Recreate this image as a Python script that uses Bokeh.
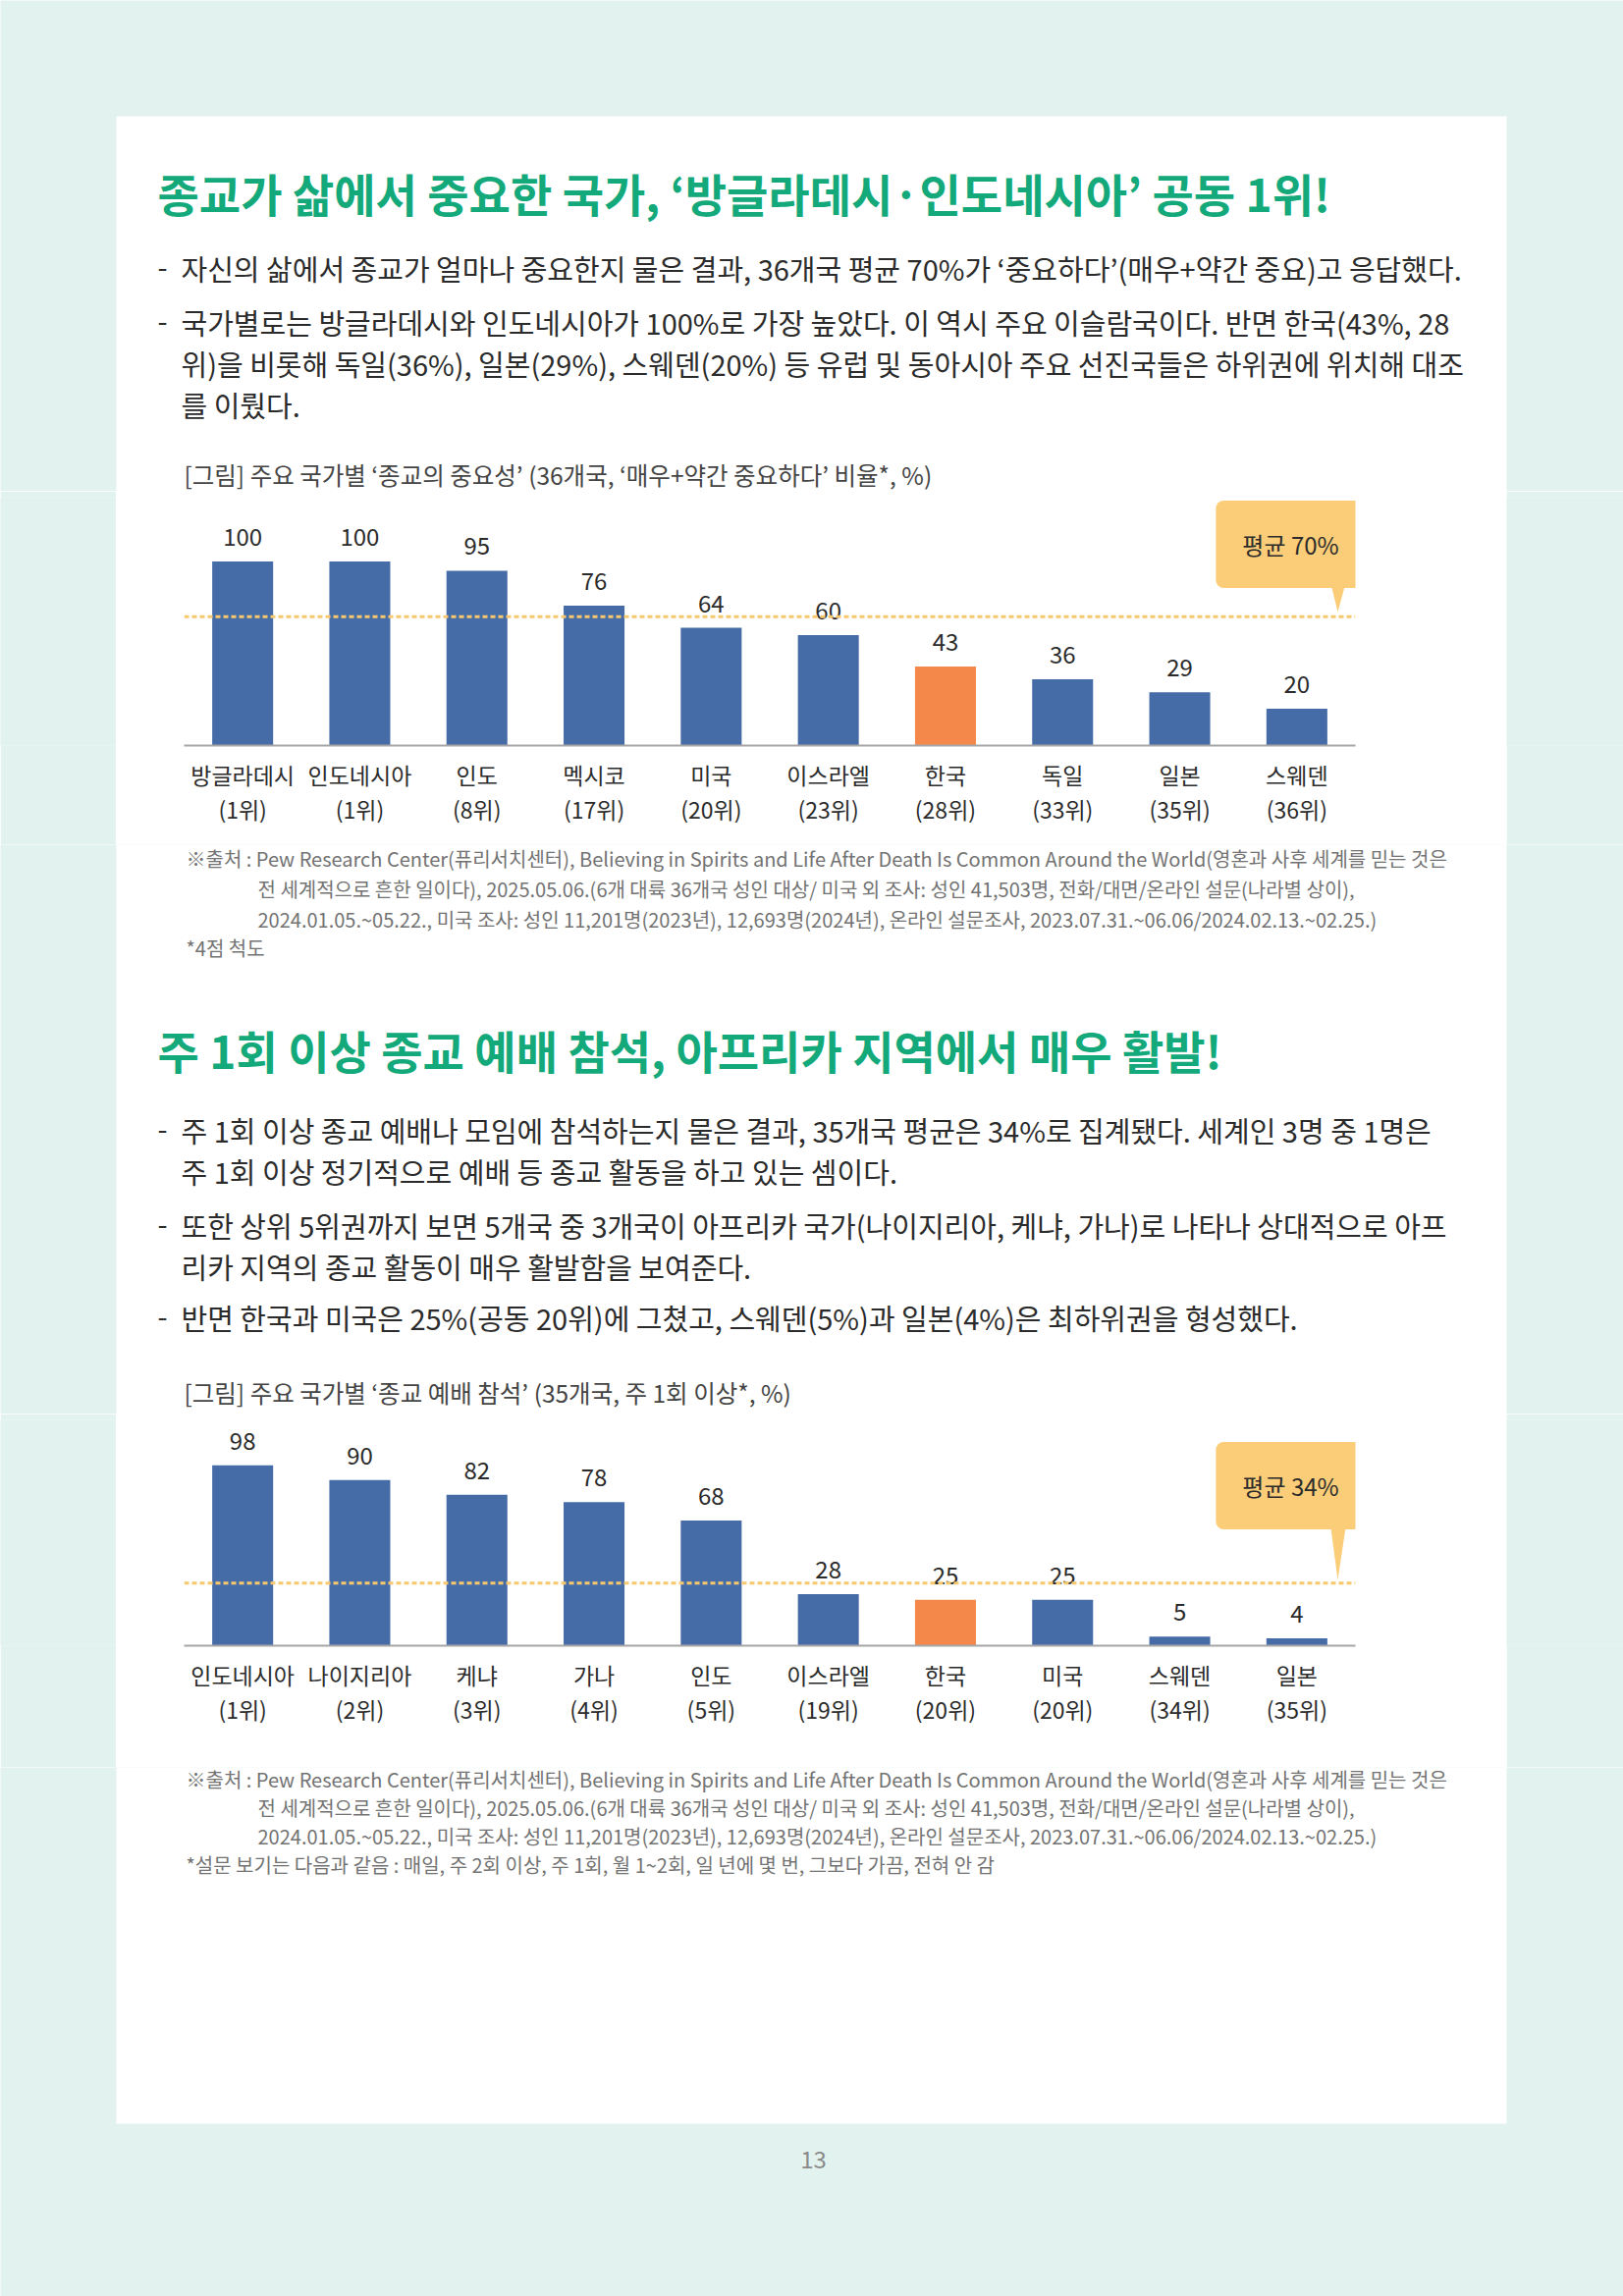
from bokeh.core.properties import value
from bokeh.embed import file_html
from bokeh.layouts import column, row
from bokeh.models import ColumnDataSource, FactorRange, Label, Range1d, Span
from bokeh.plotting import figure
from bokeh.resources import INLINE

FONT = "Noto Sans CJK KR"
MINT = "#e2f3ef"
GREEN = "#14a97a"
BLUE = "#466ca8"
ORANGE = "#f4874a"
AVG_LINE = "#f8c86d"
CALLOUT = "#fbcd78"
TEXT = "#2b2b2b"
NOTE = "#737373"

# chart 1: importance of religion
countries1 = ["방글라데시", "인도네시아", "인도", "멕시코", "미국", "이스라엘", "한국", "독일", "일본", "스웨덴"]
ranks1 = ["1위", "1위", "8위", "17위", "20위", "23위", "28위", "33위", "35위", "36위"]
values1 = [100, 100, 95, 76, 64, 60, 43, 36, 29, 20]
avg1 = 70

# chart 2: weekly attendance
countries2 = ["인도네시아", "나이지리아", "케냐", "가나", "인도", "이스라엘", "한국", "미국", "스웨덴", "일본"]
ranks2 = ["1위", "2위", "3위", "4위", "5위", "19위", "20위", "20위", "34위", "35위"]
values2 = [98, 90, 82, 78, 68, 28, 25, 25, 5, 4]
avg2 = 34

title1 = "종교가 삶에서 중요한 국가, ‘방글라데시·인도네시아’ 공동 1위!"
bullets1 = [
    ("-", "자신의 삶에서 종교가 얼마나 중요한지 물은 결과, 36개국 평균 70%가 ‘중요하다’(매우+약간 중요)고 응답했다."),
    ("-", "국가별로는 방글라데시와 인도네시아가 100%로 가장 높았다. 이 역시 주요 이슬람국이다. 반면 한국(43%, 28"),
    ("", "위)을 비롯해 독일(36%), 일본(29%), 스웨덴(20%) 등 유럽 및 동아시아 주요 선진국들은 하위권에 위치해 대조"),
    ("", "를 이뤘다."),
]
caption1 = "[그림] 주요 국가별 ‘종교의 중요성’ (36개국, ‘매우+약간 중요하다’ 비율*, %)"

source_lines = [
    "※출처 : Pew Research Center(퓨리서치센터), Believing in Spirits and Life After Death Is Common Around the World(영혼과 사후 세계를 믿는 것은",
    "전 세계적으로 흔한 일이다), 2025.05.06.(6개 대륙 36개국 성인 대상/ 미국 외 조사: 성인 41,503명, 전화/대면/온라인 설문(나라별 상이),",
    "2024.01.05.~05.22., 미국 조사: 성인 11,201명(2023년), 12,693명(2024년), 온라인 설문조사, 2023.07.31.~06.06/2024.02.13.~02.25.)",
]
footnote1 = "*4점 척도"

title2 = "주 1회 이상 종교 예배 참석, 아프리카 지역에서 매우 활발!"
bullets2 = [
    ("-", "주 1회 이상 종교 예배나 모임에 참석하는지 물은 결과, 35개국 평균은 34%로 집계됐다. 세계인 3명 중 1명은"),
    ("", "주 1회 이상 정기적으로 예배 등 종교 활동을 하고 있는 셈이다."),
    ("-", "또한 상위 5위권까지 보면 5개국 중 3개국이 아프리카 국가(나이지리아, 케냐, 가나)로 나타나 상대적으로 아프"),
    ("", "리카 지역의 종교 활동이 매우 활발함을 보여준다."),
    ("-", "반면 한국과 미국은 25%(공동 20위)에 그쳤고, 스웨덴(5%)과 일본(4%)은 최하위권을 형성했다."),
]
caption2 = "[그림] 주요 국가별 ‘종교 예배 참석’ (35개국, 주 1회 이상*, %)"
footnote2 = "*설문 보기는 다음과 같음 : 매일, 주 2회 이상, 주 1회, 월 1~2회, 일 년에 몇 번, 그보다 가끔, 전혀 안 감"
page_no = "13"

PAGE_W = 1653
PX_PER_UNIT = 1.875
PANEL_L, PANEL_R = 118, 1534
FRAME_L, FRAME_R = 187, 1380   # page x of the chart frame
BODY = "29px"


def text_block(top, height):
    p = figure(width=PAGE_W, height=height, x_range=Range1d(0, PAGE_W), y_range=Range1d(top + height, top),
               x_axis_type=None, y_axis_type=None, toolbar_location=None, tools="",
               output_backend="svg", min_border=0, background_fill_color=MINT,
               border_fill_color=MINT, outline_line_color=None)
    # white page panel
    p.quad(left=PANEL_L, right=PANEL_R, top=118, bottom=2163, fill_color="white", line_color=None)
    return p


def put(p, x, y, s, size, color=TEXT, style="normal", align="left"):
    p.text(x=[x], y=[y], text=[s], text_font=value(FONT), text_font_size=size,
           text_color=color, text_font_style=style, text_align=align, text_baseline="middle")


def strip(w, h):
    s = figure(width=w, height=h, x_range=(0, 1), y_range=(0, 1), x_axis_type=None, y_axis_type=None,
               toolbar_location=None, tools="", output_backend="svg", min_border=0,
               background_fill_color=MINT, border_fill_color=MINT, outline_line_color=None)
    s.quad(left=0, right=1, top=1, bottom=0, fill_color=MINT, line_color=None)
    return s


def bar_chart(countries, ranks, values, avg, top, base, height, box_cy, box_bottom, tip):
    cats = [f"{c}\n({r})" for c, r in zip(countries, ranks)]
    colors = [ORANGE if c == "한국" else BLUE for c in countries]
    src = ColumnDataSource(dict(cat=cats, val=values, color=colors, label=[str(v) for v in values]))
    frame_top = top + 6
    p = figure(width=PANEL_R - PANEL_L, height=height, x_range=FactorRange(factors=cats),
               y_range=Range1d(0, (base - frame_top) / PX_PER_UNIT), y_axis_type=None,
               toolbar_location=None, tools="", output_backend="svg",
               min_border_left=FRAME_L - PANEL_L, min_border_right=PANEL_R - FRAME_R, min_border_top=6,
               min_border_bottom=top + height - base,
               background_fill_color="white", border_fill_color="white", outline_line_color=None)
    p.extra_y_ranges = {"py": Range1d(base, frame_top)}
    p.xgrid.visible = False

    p.vbar(x="cat", top="val", width=0.52, fill_color="color", line_color=None, source=src)
    p.text(x="cat", y="val", text="label", source=src, y_offset=-25, text_align="center",
           text_baseline="middle", text_font=value(FONT), text_font_size="24px", text_color=TEXT)
    p.add_layout(Span(location=avg, dimension="width", line_color=AVG_LINE, line_width=3, line_dash="5 3"))

    # callout, placed in synthetic factor coordinates converted from page x
    n = len(cats)
    sx = lambda px: (px - FRAME_L) / (FRAME_R - FRAME_L) * n
    p.patch(x=[sx(1354), sx(1371), sx(1362)], y=[box_bottom - 10, box_bottom - 10, tip],
            y_range_name="py", fill_color=CALLOUT, line_color=None)
    p.add_layout(Label(x=sx(1314), y=box_cy, y_range_name="py", text=f"평균 {avg}%",
                       text_font=FONT, text_font_size="24px", text_color=TEXT, text_align="center",
                       text_baseline="middle", background_fill_color=CALLOUT, padding=27, border_radius=8))

    ax = p.xaxis[0]
    ax.axis_line_color = "#a6a6a6"
    ax.axis_line_width = 2
    ax.major_tick_line_color = None
    ax.minor_tick_line_color = None
    ax.major_label_text_font = FONT
    ax.major_label_text_font_size = "23px"
    ax.major_label_text_color = TEXT
    ax.major_label_text_line_height = 1.03
    ax.major_label_standoff = 6
    return p


# top text block: page y 0..500
top = text_block(0, 500)
put(top, 160, 195, title1, "46px", GREEN, "bold")
for (dash, line), y in zip(bullets1, [272, 327, 369, 411]):
    if dash:
        put(top, 160, y, dash, BODY)
    put(top, 184, y, line, BODY)
put(top, 187, 483, caption1, "24.5px", "#444444")

chart1 = bar_chart(countries1, ranks1, values1, avg1, 500, 759, 360, 554, 600, 623)

# middle text block: page y 860..1440
mid = text_block(860, 580)
for line, x, y in zip(source_lines + [footnote1], [189, 262, 262, 189], [874, 905, 936, 965]):
    put(mid, x, y, line, "20px", NOTE)
put(mid, 160, 1068, title2, "46px", GREEN, "bold")
for (dash, line), y in zip(bullets2, [1150, 1192, 1247, 1289, 1341]):
    if dash:
        put(mid, 160, y, dash, BODY)
    put(mid, 184, y, line, BODY)
put(mid, 187, 1418, caption2, "24.5px", "#444444")

chart2 = bar_chart(countries2, ranks2, values2, avg2, 1440, 1676, 360, 1513, 1559, 1609)

# bottom text block: page y 1800..2339
bottom = text_block(1800, 539)
for line, x, y in zip(source_lines + [footnote2], [189, 262, 262, 189], [1812, 1841, 1870, 1899]):
    put(bottom, x, y, line, "20px", NOTE)
put(bottom, 828, 2199, page_no, "24px", "#8a8a8a", align="center")

p = column(
    top,
    row(strip(PANEL_L, 360), chart1, strip(PAGE_W - PANEL_R, 360)),
    mid,
    row(strip(PANEL_L, 360), chart2, strip(PAGE_W - PANEL_R, 360)),
    bottom,
)

open("out.html", "w").write(file_html(p, INLINE))
